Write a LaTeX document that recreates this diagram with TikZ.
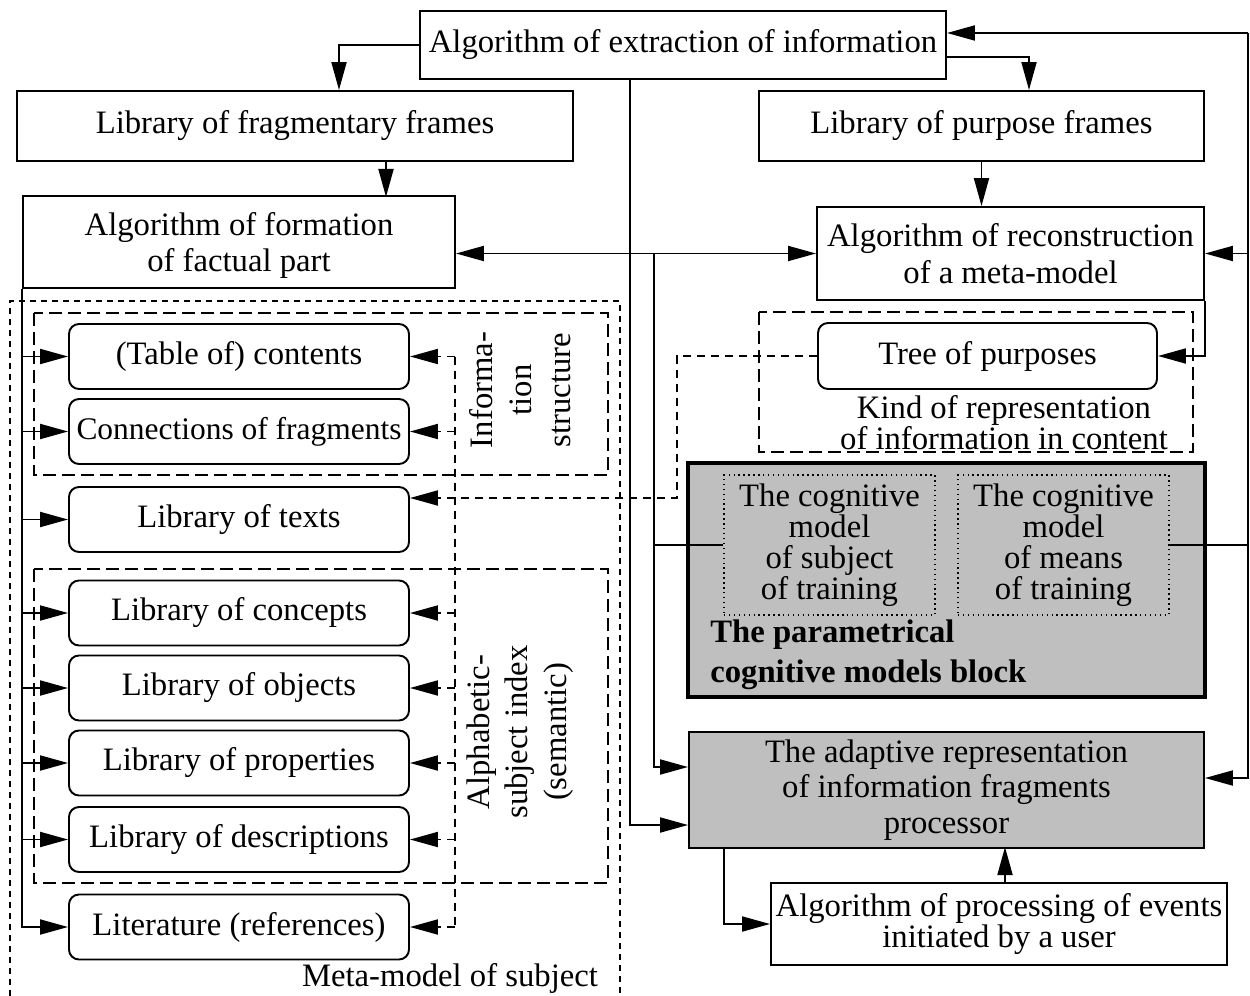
\documentclass[tikz,border=0pt]{standalone}
\usepackage{fontspec}
\setmainfont{Liberation Serif}
\usetikzlibrary{arrows.meta}
\definecolor{blockgray}{gray}{0.75}
\tikzset{
    every node/.style={font=\fontsize{18.6}{21}\selectfont, inner sep=0pt,
    	align=center},
    block/.style={draw, line width=1.1pt, fill=white},
    libbox/.style={draw, line width=1.1pt, rounded corners=0.2cm, fill=white,
    	minimum width=6.8cm, minimum height=1.3cm},
    graybox/.style={draw, line width=1.1pt, fill=blockgray},
    dotbox/.style={draw, dotted, line width=0.8pt, minimum width=4.22cm,
    	minimum height=2.8cm, font=\fontsize{18.6}{17.6}\selectfont},
    tight/.style={font=\fontsize{18.6}{17.5}\selectfont},
    sideways/.style={rotate=90, font=\fontsize{18.6}{22}\selectfont},
    arr/.style={line width=1.1pt, -{Triangle[length=0.56cm, width=0.3cm]}},
    twoarr/.style={line width=1.1pt,
    	{Triangle[length=0.56cm, width=0.3cm]}-{Triangle[length=0.56cm, width=0.3cm]}},
    dasharr/.style={arr, dash pattern=on 0.16cm off 0.12cm},
    dashwire/.style={line width=1.1pt, dash pattern=on 0.16cm off 0.12cm},
    thinwire/.style={line width=0.6pt},
    outerframe/.style={line width=0.9pt, dash pattern=on 0.12cm off 0.1cm},
    groupframe/.style={line width=0.9pt, dash pattern=on 0.26cm off 0.12cm}
}

\begin{document}
\begin{tikzpicture}
	\useasboundingbox (0cm, 0cm) rectangle (25cm, -19.92cm);

	% dashed groups
	\draw[outerframe] (0.2cm, -19.92cm) -- (0.2cm, -6.02cm) -- (12.4cm, -6.02cm) -- (12.4cm, -19.92cm);
	\draw[groupframe] (0.68cm, -6.26cm) rectangle (12.16cm, -9.5cm);
	\draw[groupframe] (0.68cm, -11.38cm) rectangle (12.16cm, -17.66cm);
	\draw[groupframe] (15.18cm, -6.24cm) rectangle (23.86cm, -9.04cm);

	\node (extract) [block, minimum width=10.52cm, minimum height=1.36cm] at (13.66cm, -0.9cm) {Algorithm of extraction of information};
	\node (fragframes) [block, minimum width=11.12cm, minimum height=1.4cm] at (5.9cm, -2.52cm) {Library of fragmentary frames};
	\node (purposeframes) [block, minimum width=8.9cm, minimum height=1.4cm] at (19.63cm, -2.52cm) {Library of purpose frames};
	\node (formation) [block, minimum width=8.64cm, minimum height=1.84cm, text depth=-0.2cm] at (4.78cm, -4.84cm) {Algorithm of formation\\of factual part};
	\node (recon) [block, minimum width=7.74cm, minimum height=1.86cm] at (20.21cm, -5.07cm) {Algorithm of reconstruction\\of a meta-model};

	\node (contents) [libbox] at (4.78cm, -7.13cm) {(Table of) contents};
	\node (links) [libbox, font=\fontsize{17.9}{21}\selectfont] at (4.78cm, -8.63cm) {Connections of fragments};
	\node (texts) [libbox] at (4.78cm, -10.39cm) {Library of texts};
	\node (concepts) [libbox] at (4.78cm, -12.26cm) {Library of concepts};
	\node (objects) [libbox] at (4.78cm, -13.76cm) {Library of objects};
	\node (properties) [libbox] at (4.78cm, -15.26cm) {Library of properties};
	\node (descriptions) [libbox] at (4.78cm, -16.79cm) {Library of descriptions};
	\node (literature) [libbox] at (4.78cm, -18.54cm) {Literature (references)};

	\node (infolabel) [sideways] at (10.4cm, -7.8cm) {Informa-\\tion\\structure};
	\node (indexlabel) [sideways] at (10.4cm, -14.64cm) {Alphabetic-\\subject index\\(semantic)};
	\node (metalabel) at (9.0cm, -19.56cm) {Meta-model of subject};

	\node (tree) [libbox, minimum width=6.78cm, minimum height=1.32cm] at (19.75cm, -7.12cm) {Tree of purposes};
	\node (kind) [tight] at (20.08cm, -8.46cm) {Kind of representation\\of information in content};

	\node (cogblock) [graybox, line width=2.3pt, minimum width=10.34cm, minimum height=4.68cm] at (18.93cm, -11.6cm) {};
	\node (subj) [dotbox] at (16.59cm, -10.9cm) {The cognitive\\model\\of subject\\of training};
	\node (means) [dotbox] at (21.27cm, -10.9cm) {The cognitive\\model\\of means\\of training};
	\node (cogtitle) [anchor=west, align=left, font=\fontsize{18.6}{22.5}\selectfont\bfseries] at (14.2cm, -13.1cm) {The parametrical\\cognitive models block};

	\node (adaptive) [graybox, minimum width=10.3cm, minimum height=2.32cm, font=\fontsize{18.6}{20}\selectfont] at (18.93cm, -15.8cm) {The adaptive representation\\of information fragments\\processor};
	\node (events) [block, minimum width=9.12cm, minimum height=1.64cm, font=\fontsize{18.6}{16}\selectfont] at (19.98cm, -18.48cm) {Algorithm of processing of events\\initiated by a user};

	\coordinate (rtop) at (24.96cm, -0.66cm);
	\coordinate (fork) at (13.08cm, -5.07cm);
	\coordinate (idx) at (9.1cm, -7.13cm);
	\coordinate (bend) at (13.54cm, -9.96cm);

	% solid connectors
	\draw[arr] (extract.west) -| ([xshift=0.88cm]fragframes.north);
	\draw[arr] ([yshift=-0.24cm]extract.east) -| ([xshift=0.95cm]purposeframes.north);
	\draw[arr] (rtop) -- (rtop -| extract.east);
	\draw[arr] (rtop) |- ([yshift=0.24cm]adaptive.east);
	\draw[arr] (rtop |- recon.east) -- (recon.east);
	\draw[thinwire] (means.east) -- (rtop |- means.east);
	\draw[arr] ([xshift=1.82cm]fragframes.south) -- ++(0, -0.7cm);
	\draw[arr] (purposeframes.south) -- (purposeframes.south |- recon.north);
	\draw[twoarr] (formation.east |- recon.west) -- (recon.west);
	\draw[arr] ([xshift=-1.06cm]extract.south) |- ([yshift=-0.7cm]adaptive.west);
	\draw[arr] (fork) |- ([yshift=0.46cm]adaptive.west);
	\draw[thinwire] (fork |- subj.west) -- (subj.west);
	\draw[arr] (recon.south east) |- (tree.east);
	\draw[arr] ([xshift=-4.45cm]adaptive.south) |- (events.west);
	\draw[arr] ([xshift=0.12cm]events.north) -- ++(0, 0.7cm);

	\draw[arr] (formation.south west) |- (literature.west);
	\draw[arr] (formation.south west |- contents.west) -- (contents.west);
	\draw[arr] (formation.south west |- links.west) -- (links.west);
	\draw[arr] (formation.south west |- texts.west) -- (texts.west);
	\draw[arr] (formation.south west |- concepts.west) -- (concepts.west);
	\draw[arr] (formation.south west |- objects.west) -- (objects.west);
	\draw[arr] (formation.south west |- properties.west) -- (properties.west);
	\draw[arr] (formation.south west |- descriptions.west) -- (descriptions.west);

	% dashed connectors
	\draw[dashwire] (idx) -- (idx |- literature.east);
	\draw[dasharr] (idx) -- (contents.east);
	\draw[dasharr] (idx |- links.east) -- (links.east);
	\draw[dasharr] (idx |- concepts.east) -- (concepts.east);
	\draw[dasharr] (idx |- objects.east) -- (objects.east);
	\draw[dasharr] (idx |- properties.east) -- (properties.east);
	\draw[dasharr] (idx |- descriptions.east) -- (descriptions.east);
	\draw[dasharr] (idx |- literature.east) -- (literature.east);
	\draw[dasharr] (tree.west) -| (bend) -- (bend -| texts.east);
\end{tikzpicture}
\end{document}
